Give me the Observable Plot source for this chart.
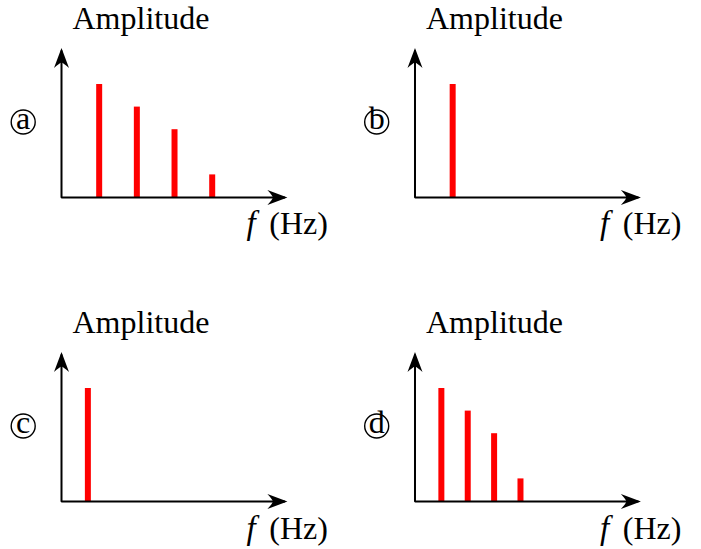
<!DOCTYPE html>
<html>
<head>
<meta charset="utf-8">
<script src="https://cdn.jsdelivr.net/npm/d3@7"></script>
<script src="https://cdn.jsdelivr.net/npm/@observablehq/plot@0.6"></script>
<style>
  html, body { margin: 0; padding: 0; background: #fff; }
  #chart svg { display: block; }
</style>
</head>
<body>
<div id="chart"></div>
<script>
// ---- data ----
const panelLetters = ["a", "b", "c", "d"];
const panelColumns = ["left", "right", "left", "right"];
const panelRows = ["top", "top", "bottom", "bottom"];

const freqA = [1, 2, 3, 4];
const ampA = [1, 0.8, 0.6, 0.2];
const freqB = [1];
const ampB = [1];
const freqC = [0.7];
const ampC = [1];
const freqD = [0.7, 1.4, 2.1, 2.8];
const ampD = [1, 0.8, 0.6, 0.2];

const yAxisLabel = "Amplitude";
const xAxisVariable = "f";
const xAxisUnit = "(Hz)";

// axis extents (in data units)
const xAxisEnd = 5.93;
const yAxisEnd = 1.3;

// ---- derived tables ----
const seriesFreq = [freqA, freqB, freqC, freqD];
const seriesAmp = [ampA, ampB, ampC, ampD];
const panels = panelLetters.map((letter, i) => ({letter, col: panelColumns[i], row: panelRows[i]}));
const spectra = panels.flatMap((p, i) => seriesFreq[i].map((f, j) => ({...p, f, amp: seriesAmp[i][j]})));
const axisPath = panels.flatMap(p => [
  {...p, x: 0, y: yAxisEnd},
  {...p, x: 0, y: 0},
  {...p, x: xAxisEnd, y: 0}
]);

// stealth-like arrowhead symbols (tip slightly beyond the anchor point)
const T = -2.5, L = 20, W = 7.5, N = 14.5;
const upPts = [[0, T], [W, T + L], [2, T + N + 0.5], [0, T + N], [-2, T + N + 0.5], [-W, T + L]];
function headSymbol(rot) {
  const tr = rot ? ([x, y]) => [-y, x] : ([x, y]) => [x, y];
  const p = upPts.map(tr);
  return {
    draw(ctx) {
      ctx.moveTo(...p[0]);
      ctx.lineTo(...p[1]);
      ctx.quadraticCurveTo(...p[2], ...p[3]);
      ctx.quadraticCurveTo(...p[4], ...p[5]);
      ctx.closePath();
    }
  };
}
const arrowUp = headSymbol(false);
const arrowRight = headSymbol(true);

const serif = "'Liberation Serif', 'DejaVu Serif', serif";
const fxy = {fx: "col", fy: "row"};

const chart = Plot.plot({
  width: 701,
  height: 549,
  marginLeft: 61,
  marginRight: 63.1,
  marginTop: 50.1,
  marginBottom: 48,
  x: {domain: [0, xAxisEnd], axis: null},
  y: {domain: [0, yAxisEnd], axis: null},
  fx: {domain: ["left", "right"], paddingInner: 0.368, paddingOuter: 0, round: false, axis: null, label: null},
  fy: {domain: ["top", "bottom"], paddingInner: 0.5168, paddingOuter: 0, round: false, axis: null, label: null},
  style: {background: "white", overflow: "visible"},
  marks: [
    Plot.ruleX(spectra, {x: "f", y1: () => 0, y2: "amp", ...fxy, stroke: "#ff0000", strokeWidth: 6}),
    Plot.line(axisPath, {x: "x", y: "y", z: "letter", ...fxy, stroke: "black", strokeWidth: 2, strokeLinejoin: "miter", strokeLinecap: "butt"}),
    Plot.dot(panels, {x: () => 0, y: () => yAxisEnd, ...fxy, symbol: arrowUp, fill: "black", stroke: "none"}),
    Plot.dot(panels, {x: () => xAxisEnd, y: () => 0, ...fxy, symbol: arrowRight, fill: "black", stroke: "none"}),
    Plot.text(panels, {x: () => 0, y: () => yAxisEnd, ...fxy, text: () => yAxisLabel, textAnchor: "start", lineAnchor: "bottom", dx: 11, dy: -22, fontSize: 32, fontFamily: serif, fill: "black"}),
    Plot.text(panels, {x: () => xAxisEnd, y: () => 0, ...fxy, text: () => xAxisVariable, textAnchor: "start", lineAnchor: "bottom", dx: -38.4, dy: 37, fontSize: 33, fontStyle: "italic", fontFamily: serif, fill: "black"}),
    Plot.text(panels, {x: () => xAxisEnd, y: () => 0, ...fxy, text: () => xAxisUnit, textAnchor: "end", lineAnchor: "bottom", dx: 43, dy: 37, fontSize: 32, fontFamily: serif, fill: "black"}),
    Plot.dot(panels, {x: () => 0, y: () => 0, ...fxy, dx: -38.3, dy: -75.5, r: 12, stroke: "black", strokeWidth: 1.4, fill: "none"}),
    Plot.text(panels, {x: () => 0, y: () => 0, ...fxy, text: "letter", textAnchor: "middle", lineAnchor: "middle", dx: -38.3, dy: -78.8, fontSize: 32, fontFamily: serif, fill: "black"})
  ]
});
document.getElementById("chart").appendChild(chart);
</script>
</body>
</html>
